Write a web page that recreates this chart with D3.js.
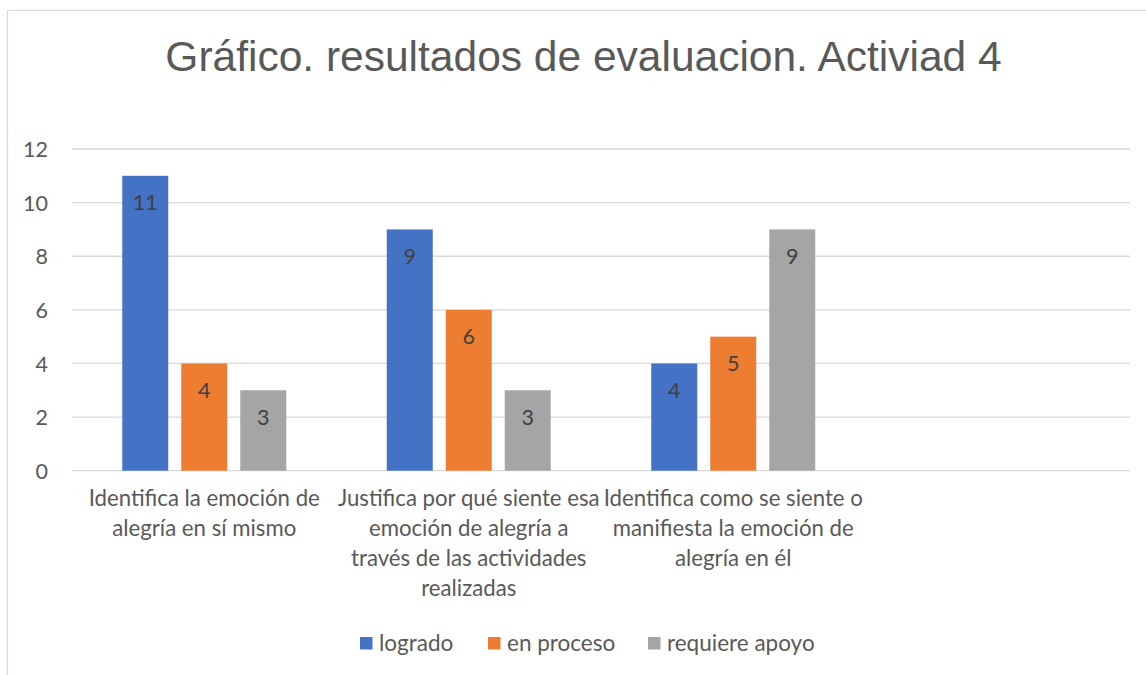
<!DOCTYPE html>
<html>
<head>
<meta charset="utf-8">
<script src="https://cdn.jsdelivr.net/npm/d3@7"></script>
<style>
  html, body { margin: 0; padding: 0; background: #fff; }
  svg { display: block; }
</style>
</head>
<body>
<svg id="chart" width="1146" height="675"></svg>
<script>
// ---- data ----
const title = "Gráfico. resultados de evaluacion. Activiad 4";
const categories = [
  "Identifica la emoción de\nalegría en sí mismo",
  "Justifica por qué siente esa\nemoción de alegría a\ntravés de las actividades\nrealizadas",
  "Identifica como se siente o\nmanifiesta la emoción de\nalegría en él",
  ""
];
const seriesNames = ["logrado", "en proceso", "requiere apoyo"];
const logrado = [11, 9, 4, null];
const enProceso = [4, 6, 5, null];
const requiereApoyo = [3, 3, 9, null];
const yTicks = [0, 2, 4, 6, 8, 10, 12];
const colors = ["#4472C4", "#ED7D31", "#A5A5A5"];

const seriesValues = [logrado, enProceso, requiereApoyo];

// ---- layout ----
const svg = d3.select("#chart");
const W = 1146, H = 675;
const plot = { left: 72, right: 1130, top: 149, bottom: 470.7 };
const uiFont = "Lato, 'Open Sans', sans-serif";

// frame
svg.append("rect")
  .attr("x", 7.5).attr("y", 10.5)
  .attr("width", W + 20).attr("height", H + 20)
  .attr("fill", "#fff").attr("stroke", "#D9D9D9").attr("stroke-width", 1.3);

// title
svg.append("text")
  .attr("x", 583.5).attr("y", 70.5)
  .attr("text-anchor", "middle")
  .attr("font-family", "'Liberation Sans', Arial, sans-serif")
  .attr("font-size", 42.5)
  .attr("fill", "#595959")
  .text(title);

const y = d3.scaleLinear().domain([0, 12]).range([plot.bottom, plot.top]);
const x0 = d3.scaleBand()
  .domain(d3.range(categories.length))
  .range([plot.left, plot.right])
  .paddingInner(0.38).paddingOuter(0.19);
const x1 = d3.scaleBand()
  .domain(d3.range(seriesNames.length))
  .range([0, x0.bandwidth()])
  .paddingInner(13 / 59).paddingOuter(0);

// gridlines
svg.append("g").selectAll("line").data(yTicks).join("line")
  .attr("x1", plot.left).attr("x2", plot.right)
  .attr("y1", d => y(d)).attr("y2", d => y(d))
  .attr("stroke", "#D9D9D9").attr("stroke-width", 1.3);

// y axis labels
const yAxis = d3.axisLeft(y).tickValues(yTicks).tickSize(0).tickPadding(0);
const gy = svg.append("g").attr("transform", "translate(48,0)").call(yAxis);
gy.select(".domain").remove();
gy.selectAll("text")
  .attr("font-family", uiFont).attr("font-size", 21.5)
  .attr("fill", "#595959").attr("dy", "0.36em");

// bars
const flat = [];
seriesValues.forEach((vals, s) => vals.forEach((v, c) => {
  if (v !== null) flat.push({ s, c, v });
}));

svg.append("g").selectAll("rect").data(flat).join("rect")
  .attr("x", d => x0(d.c) + x1(d.s))
  .attr("width", x1.bandwidth())
  .attr("y", d => y(d.v))
  .attr("height", d => y(0) - y(d.v))
  .attr("fill", d => colors[d.s]);

// data labels
svg.append("g").selectAll("text").data(flat).join("text")
  .attr("x", d => x0(d.c) + x1(d.s) + x1.bandwidth() / 2)
  .attr("y", d => y(d.v) + 34.5)
  .attr("text-anchor", "middle")
  .attr("font-family", uiFont).attr("font-size", 21.5)
  .attr("fill", "#404040")
  .text(d => d.v);

// category labels
const xAxisG = svg.append("g");
categories.forEach((cat, i) => {
  if (!cat) return;
  const cx = x0(i) + x0.bandwidth() / 2;
  const t = xAxisG.append("text")
    .attr("text-anchor", "middle")
    .attr("font-family", uiFont).attr("font-size", 22.2)
    .attr("fill", "#595959");
  cat.split("\n").forEach((line, k) => {
    t.append("tspan").attr("x", cx).attr("y", 506 + k * 30).text(line);
  });
});

// legend
const legendX = [360, 488, 648];
const lg = svg.append("g");
seriesNames.forEach((name, i) => {
  lg.append("rect")
    .attr("x", legendX[i]).attr("y", 637)
    .attr("width", 12.5).attr("height", 12.5)
    .attr("fill", colors[i]);
  lg.append("text")
    .attr("x", legendX[i] + 19).attr("y", 651)
    .attr("font-family", uiFont).attr("font-size", 22.5)
    .attr("fill", "#595959")
    .text(name);
});
</script>
</body>
</html>
